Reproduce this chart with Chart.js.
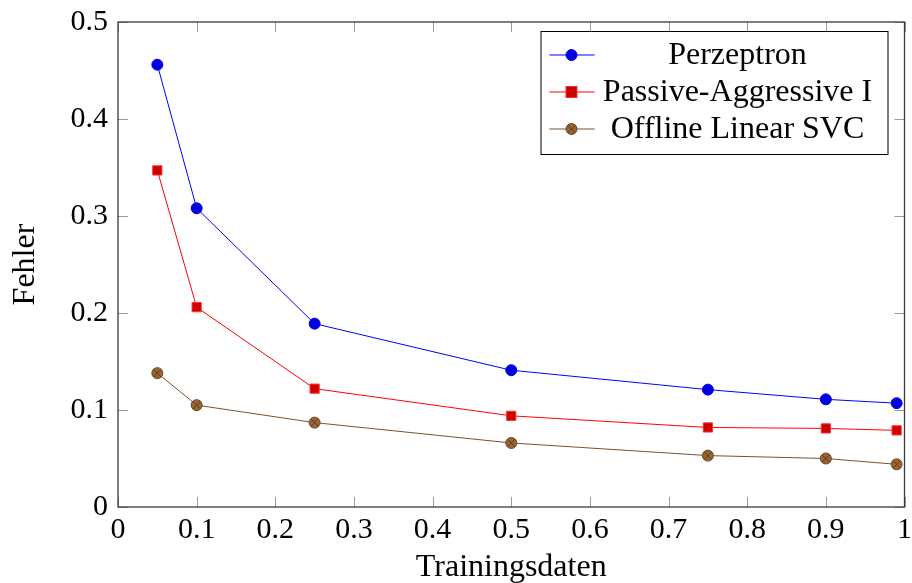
<!DOCTYPE html>
<html>
<head>
<meta charset="utf-8">
<script src="https://cdn.jsdelivr.net/npm/chart.js@4/dist/chart.umd.min.js"></script>
<style>
  html, body { margin: 0; padding: 0; background: #fff; }
  #wrap { width: 912px; height: 583px; }
</style>
</head>
<body>
<div id="wrap"><canvas id="c" width="912" height="583"></canvas></div>
<script>
// ---- data ----
const xValues = [0.05, 0.1, 0.25, 0.5, 0.75, 0.9, 0.99];
const perzeptron = [0.456, 0.308, 0.189, 0.141, 0.121, 0.111, 0.107];
const passiveAggressive = [0.347, 0.206, 0.122, 0.094, 0.082, 0.081, 0.079];
const offlineSVC = [0.138, 0.105, 0.087, 0.066, 0.053, 0.050, 0.044];
const seriesNames = ["Perzeptron", "Passive-Aggressive I", "Offline Linear SVC"];
const xTickLabels = ["0", "0.1", "0.2", "0.3", "0.4", "0.5", "0.6", "0.7", "0.8", "0.9", "1"];
const yTickLabels = ["0", "0.1", "0.2", "0.3", "0.4", "0.5"];
const xTitle = "Trainingsdaten";
const yTitle = "Fehler";

const FONT = "'Liberation Serif', 'Times New Roman', serif";
const pts = arr => arr.map((v, i) => ({ x: xValues[i], y: v }));

const frameAndTicks = {
  id: 'frameAndTicks',
  afterDatasetsDraw(chart) {
    const { ctx, chartArea: a, scales } = chart;
    ctx.save();
    ctx.strokeStyle = '#9a9a9a';
    ctx.lineWidth = 1;
    const tl = 10;
    scales.x.ticks.forEach((t, i) => {
      const px = Math.round(scales.x.getPixelForTick(i)) + 0.5;
      ctx.beginPath();
      ctx.moveTo(px, a.bottom); ctx.lineTo(px, a.bottom - tl);
      ctx.moveTo(px, a.top); ctx.lineTo(px, a.top + tl);
      ctx.stroke();
    });
    scales.y.ticks.forEach((t, i) => {
      const py = Math.round(scales.y.getPixelForTick(i)) + 0.5;
      ctx.beginPath();
      ctx.moveTo(a.left, py); ctx.lineTo(a.left + tl, py);
      ctx.moveTo(a.right, py); ctx.lineTo(a.right - tl, py);
      ctx.stroke();
    });
    ctx.strokeStyle = '#3a3a3a';
    ctx.lineWidth = 1.3;
    ctx.strokeRect(a.left, a.top, a.right - a.left, a.bottom - a.top);
    ctx.restore();
  }
};

function drawOtimes(ctx, x, y, r) {
  ctx.save();
  ctx.strokeStyle = '#4a3018';
  ctx.lineWidth = 0.8;
  const d = r * 0.68;
  ctx.beginPath();
  ctx.moveTo(x - d, y - d); ctx.lineTo(x + d, y + d);
  ctx.moveTo(x - d, y + d); ctx.lineTo(x + d, y - d);
  ctx.stroke();
  ctx.restore();
}

const otimesPlugin = {
  id: 'otimes',
  afterDatasetsDraw(chart) {
    const meta = chart.getDatasetMeta(2);
    meta.data.forEach(p => drawOtimes(chart.ctx, p.x, p.y, 5.5));
  }
};

const legendPlugin = {
  id: 'customLegend',
  afterDraw(chart) {
    const { ctx, chartArea: a } = chart;
    const right = a.right - 17, top = a.top + 9;
    const w = 347, h = 123;
    const left = right - w;
    ctx.save();
    ctx.fillStyle = '#fff';
    ctx.fillRect(left, top, w, h);
    ctx.strokeStyle = '#000';
    ctx.lineWidth = 1;
    ctx.strokeRect(left + 0.5, top + 0.5, w, h);
    const rows = [top + 24, top + 61, top + 98];
    chart.data.datasets.forEach((ds, i) => {
      const y = rows[i];
      ctx.strokeStyle = ds.borderColor;
      ctx.lineWidth = 1.2;
      ctx.beginPath();
      ctx.moveTo(left + 9, y); ctx.lineTo(left + 54, y);
      ctx.stroke();
      const mx = left + 31;
      ctx.fillStyle = ds.pointBackgroundColor;
      ctx.strokeStyle = ds.pointBorderColor;
      ctx.lineWidth = 1;
      if (ds.pointStyle === 'rect') {
        ctx.fillRect(mx - 5.5, y - 5.5, 11, 11);
        ctx.strokeRect(mx - 5.5, y - 5.5, 11, 11);
      } else {
        ctx.beginPath();
        ctx.arc(mx, y, ds.pointRadius, 0, Math.PI * 2);
        ctx.fill(); ctx.stroke();
        if (i === 2) drawOtimes(ctx, mx, y, 5.5);
      }
      ctx.fillStyle = '#000';
      ctx.font = '32px ' + FONT;
      ctx.textAlign = 'center';
      ctx.textBaseline = 'middle';
      ctx.fillText(ds.label, left + 197, y + 1);
    });
    ctx.restore();
  }
};

new Chart(document.getElementById('c'), {
  type: 'line',
  data: {
    datasets: [
      {
        label: seriesNames[0], data: pts(perzeptron),
        borderColor: '#0000ff', borderWidth: 1,
        pointStyle: 'circle', pointRadius: 5.5,
        pointBackgroundColor: '#0000dd', pointBorderColor: '#0000ff', pointBorderWidth: 1
      },
      {
        label: seriesNames[1], data: pts(passiveAggressive),
        borderColor: '#ff0000', borderWidth: 1,
        pointStyle: 'rect', pointRadius: 6.5,
        pointBackgroundColor: '#cc0000', pointBorderColor: '#ff3030', pointBorderWidth: 1
      },
      {
        label: seriesNames[2], data: pts(offlineSVC),
        borderColor: '#7a5230', borderWidth: 1,
        pointStyle: 'circle', pointRadius: 5.5,
        pointBackgroundColor: '#996633', pointBorderColor: '#6b4722', pointBorderWidth: 1
      }
    ]
  },
  options: {
    responsive: false,
    animation: false,
    devicePixelRatio: 1,
    layout: { padding: { top: 22, right: 6, left: 0, bottom: 0 } },
    plugins: { legend: { display: false }, tooltip: { enabled: false } },
    elements: { line: { tension: 0 } },
    scales: {
      x: {
        type: 'linear', min: 0, max: 1,
        afterFit: s => { s.height = 76; s.paddingLeft = 0; s.paddingRight = 0; },
        afterBuildTicks: s => { s.ticks = xTickLabels.map((_, i) => ({ value: i / 10 })); },
        ticks: {
          callback: (v, i) => xTickLabels[i],
          font: { family: FONT, size: 30 }, color: '#000', padding: 5,
          maxRotation: 0, autoSkip: false
        },
        grid: { display: false, drawTicks: false },
        border: { display: false },
        title: {
          display: true, text: xTitle, color: '#000',
          font: { family: FONT, size: 32, lineHeight: 1 }, padding: { top: 0, bottom: -1 }
        }
      },
      y: {
        type: 'linear', min: 0, max: 0.5,
        afterFit: s => { s.width = 118; s.paddingTop = 0; s.paddingBottom = 0; },
        afterBuildTicks: s => { s.ticks = yTickLabels.map((_, i) => ({ value: i / 10 })); },
        ticks: {
          callback: (v, i) => yTickLabels[i],
          font: { family: FONT, size: 30 }, color: '#000', padding: 10,
          autoSkip: false
        },
        grid: { display: false, drawTicks: false },
        border: { display: false },
        title: {
          display: true, text: yTitle, color: '#000',
          font: { family: FONT, size: 32, lineHeight: 1 }, padding: { top: 10, bottom: 0 }
        }
      }
    }
  },
  plugins: [frameAndTicks, otimesPlugin, legendPlugin]
});
</script>
</body>
</html>
